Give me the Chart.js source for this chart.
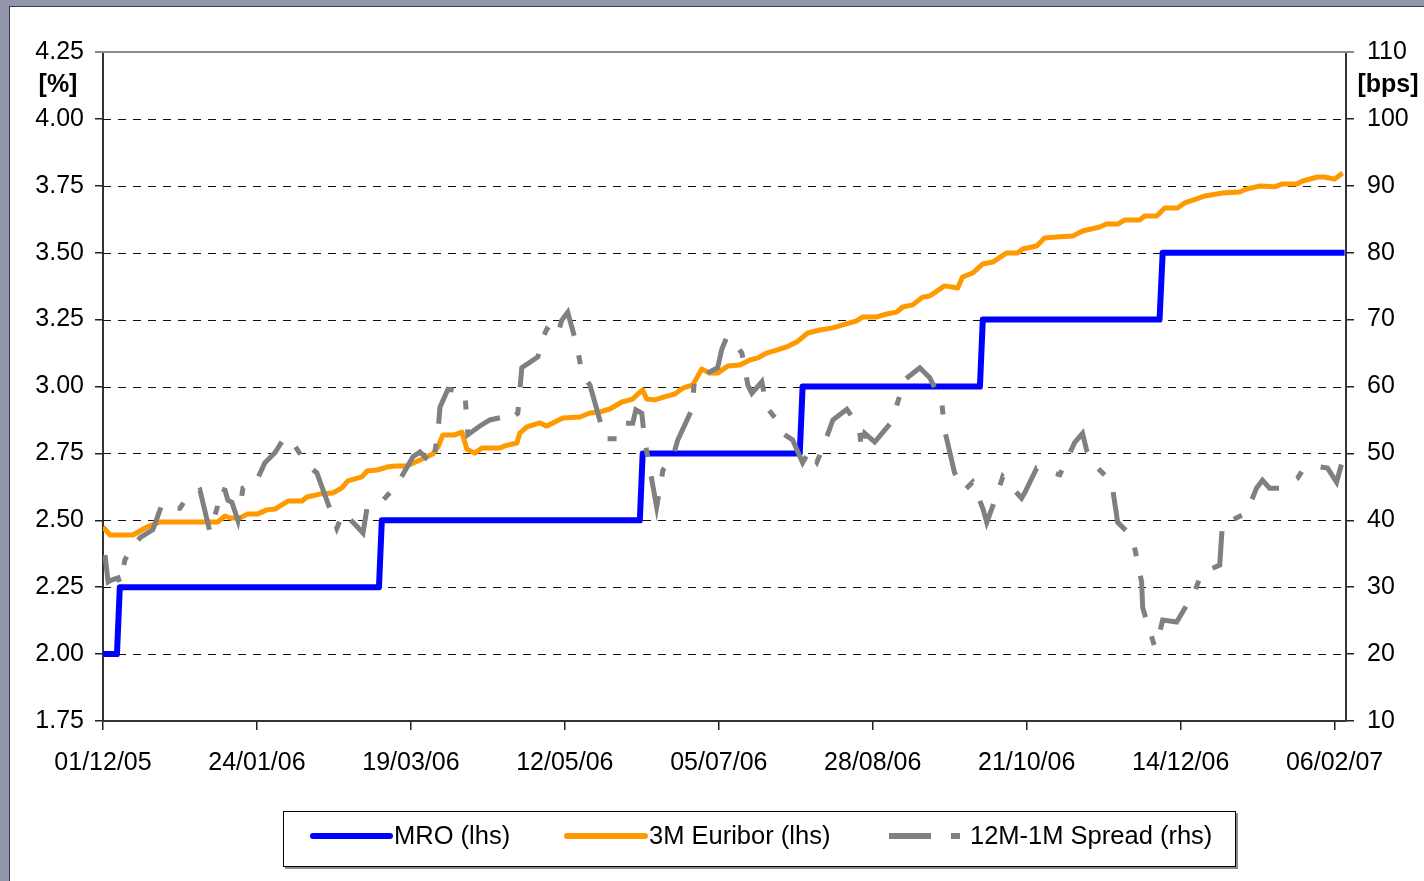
<!DOCTYPE html>
<html><head><meta charset="utf-8">
<script src="https://cdn.jsdelivr.net/npm/chart.js@4.4.0/dist/chart.umd.min.js"></script>
<style>html,body{margin:0;padding:0;background:#9496ae;overflow:hidden}canvas{display:block}</style>
</head><body>
<canvas id="c" width="1424" height="881"></canvas>
<script>
// x values are days since 01/12/2005
const xTickDays = [0, 54, 108, 162, 216, 270, 324, 378, 432];
const xTickLabels = ['01/12/05','24/01/06','19/03/06','12/05/06','05/07/06','28/08/06','21/10/06','14/12/06','06/02/07'];
const seriesNames = ['MRO (lhs)', '3M Euribor (lhs)', '12M-1M Spread (rhs)'];
const leftUnit = '[%]';
const rightUnit = '[bps]';

const mroDays = [0, 4.9, 5.9, 96.8, 97.8, 188.3, 189.3, 244.4, 245.4, 307.6, 308.6, 370.6, 371.7, 435.5];
const mroRates = [2.00, 2.00, 2.25, 2.25, 2.50, 2.50, 2.75, 2.75, 3.00, 3.00, 3.25, 3.25, 3.50, 3.50];

const euriborDays = [0, 2.5, 10.5, 15.4, 20, 40.3, 42.8, 44.5, 48, 50.8,
  54.3, 57.5, 60.3, 64.9, 69.8, 71.5, 76.1, 80.6, 83.8, 85.9,
  90.8, 92.6, 96.1, 99.6, 102.4, 106.6, 111.2, 115.7, 117.5, 119.2,
  123.4, 125.9, 127.6, 130.4, 132.9, 139.2, 141, 145.2, 146.2, 148.7,
  153.2, 155.7, 161.3, 167.3, 170.8, 174.3, 177.8, 182, 185.8, 187.6,
  189.3, 190.7, 193.5, 197.8, 200.6, 203.4, 206.9, 210, 212.8, 215.6,
  219.2, 223.4, 226.9, 229.7, 232.8, 236.3, 239.8, 243.3, 247.2, 251.4,
  256, 259.5, 264.4, 266.5, 271.4, 274.9, 278.4, 280.5, 284, 287.5,
  290, 295.2, 299.8, 301.5, 305, 308.6, 312.1, 317, 320.8, 322.6,
  327.5, 330.3, 334.5, 340.1, 343.6, 349.6, 352, 355.9, 358.3, 363.6,
  365.4, 369.6, 372.4, 376.9, 379.4, 383.6, 386.5, 392.7, 398.7, 401.1,
  405.7, 410.9, 413.7, 418.7, 420.8, 426, 428.5, 432, 434.8];
const euriborRates = [2.475, 2.445, 2.445, 2.475, 2.494, 2.494, 2.516, 2.509, 2.509, 2.524,
  2.524, 2.539, 2.542, 2.572, 2.572, 2.587, 2.598, 2.602, 2.621, 2.647,
  2.662, 2.684, 2.688, 2.699, 2.703, 2.703, 2.725, 2.748, 2.774, 2.819,
  2.819, 2.830, 2.766, 2.751, 2.770, 2.770, 2.778, 2.789, 2.826, 2.849,
  2.864, 2.852, 2.882, 2.886, 2.901, 2.905, 2.916, 2.942, 2.953, 2.972,
  2.987, 2.953, 2.950, 2.964, 2.972, 2.994, 3.006, 3.065, 3.050, 3.050,
  3.077, 3.080, 3.099, 3.107, 3.125, 3.136, 3.148, 3.166, 3.200, 3.211,
  3.219, 3.230, 3.245, 3.260, 3.260, 3.271, 3.278, 3.297, 3.305, 3.334,
  3.338, 3.376, 3.368, 3.409, 3.424, 3.458, 3.465, 3.499, 3.499, 3.514,
  3.525, 3.555, 3.559, 3.562, 3.581, 3.596, 3.607, 3.607, 3.622, 3.622,
  3.637, 3.637, 3.667, 3.667, 3.686, 3.701, 3.712, 3.723, 3.727, 3.738,
  3.749, 3.746, 3.757, 3.757, 3.768, 3.783, 3.783, 3.775, 3.798];

const spreadDays = [0.7, 1.8, 3.2, 5.3, 6.0, 7.7, 10.5, 13.0, 17.5, 20.7,
  22.8, 27.0, 29.5, 34.0, 37.5, 40.0, 41.0, 42.8, 43.8, 45.2,
  47.3, 49.1, 53.3, 56.8, 60.3, 63.1, 65.6, 71.5, 75.0, 78.5,
  82.0, 84.2, 87.7, 91.2, 92.6, 96.1, 98.2, 103.1, 108.7, 111.2,
  115.7, 117.5, 118.2, 121.0, 126.9, 128.0, 132.2, 135.7, 139.9, 141.7,
  145.5, 146.9, 152.5, 154.3, 155.7, 157.4, 159.2, 160.9, 163.0, 166.2,
  168.0, 170.8, 173.6, 176.0, 180.2, 182.3, 185.8, 186.9, 189.0, 190.0,
  194.2, 196.4, 199.9, 201.6, 206.5, 207.6, 209.3, 215.6, 217.0, 218.8,
  220.9, 224.1, 226.2, 227.6, 231.1, 232.8, 236.3, 238.4, 241.9, 245.4,
  247.9, 250.4, 252.5, 256.0, 260.9, 264.4, 265.4, 266.1, 267.2, 270.7,
  276.6, 281.2, 286.5, 290.0, 294.2, 295.2, 298.7, 302.2, 305.0, 308.6,
  310.0, 313.8, 315.6, 322.2, 323.3, 327.5, 335.6, 338.0, 340.8, 343.6,
  345.0, 348.5, 353.8, 355.9, 361.1, 364.3, 364.7, 368.9, 370.6, 371.7,
  376.6, 378.7, 382.9, 385.3, 391.7, 392.4, 392.7, 395.9, 401.1, 404.6,
  406.7, 409.2, 412.7, 419.0, 420.8, 426.7, 429.5, 432.7, 434.8];
const spreadBps = [34.8, 30.8, 31.1, 31.4, 30.6, 34.1, 36.0, 37.4, 38.6, 42.4,
  41.8, 41.8, 43.5, 44.5, 38.3, 41.8, 44.8, 44.5, 43.0, 42.7,
  40.0, 44.8, 45.4, 48.6, 50.1, 52.0, 52.3, 48.3, 47.1, 43.0,
  38.8, 41.1, 39.7, 38.1, 41.8, 42.6, 43.0, 45.3, 49.5, 50.2,
  48.3, 53.2, 56.9, 59.6, 59.2, 52.8, 54.1, 55.0, 55.4, 54.7,
  56.0, 62.8, 64.4, 67.3, 68.6, 68.1, 67.4, 69.9, 71.1, 66.2,
  62.0, 60.2, 56.0, 52.2, 52.2, 54.5, 54.5, 56.5, 56.0, 52.0,
  42.0, 47.5, 49.5, 52.0, 56.5, 61.4, 61.4, 62.8, 65.5, 67.4,
  66.8, 65.0, 60.2, 59.0, 60.7, 56.9, 55.0, 53.0, 52.0, 48.6,
  50.5, 48.7, 50.8, 55.0, 56.6, 54.5, 53.2, 50.5, 53.0, 51.7,
  54.7, 61.0, 62.8, 61.3, 57.7, 53.5, 47.1, 44.5, 45.7, 41.8,
  39.7, 44.1, 46.5, 43.3, 44.1, 47.8, 46.8, 49.0, 51.6, 53.0,
  50.5, 48.0, 45.7, 39.7, 37.5, 30.8, 26.9, 21.1, 23.2, 25.1,
  24.8, 26.3, 29.3, 32.1, 33.3, 37.8, 39.6, 40.0, 41.1, 44.8,
  46.0, 44.8, 44.8, 46.3, 47.5, 48.0, 47.8, 45.7, 49.0];

const COLORS = { mro: '#0000ff', eur: '#ff9900', spread: '#808080' };
const SPREAD_DASH = [42, 20, 9, 20];
const FONT = '"Liberation Sans", Arial, Helvetica, sans-serif';

const zip = (xs, ys) => xs.map((x, i) => ({ x: x, y: ys[i] }));

const framePlugin = {
  id: 'frame',
  beforeDraw(chart) {
    const ctx = chart.ctx;
    ctx.save();
    ctx.fillStyle = '#9496ae';
    ctx.fillRect(0, 0, chart.width, chart.height);
    ctx.fillStyle = '#ffffff';
    ctx.fillRect(10, 7, chart.width - 10, chart.height - 7);
    ctx.fillStyle = '#3a3a4a';
    ctx.fillRect(9, 6, 1, chart.height - 6);
    ctx.fillRect(9, 6, chart.width - 9, 1);
    ctx.restore();
  },
  beforeDatasetsDraw(chart) {
    const ctx = chart.ctx, a = chart.chartArea, s = chart.scales.y;
    ctx.save();
    s.ticks.forEach(t => {
      const y = Math.round(s.getPixelForValue(t.value)) + 0.5;
      if (Math.abs(t.value - 4.25) < 1e-6) {
        ctx.setLineDash([]);
        ctx.strokeStyle = '#8a8a8a';
        ctx.lineWidth = 2;
        ctx.beginPath(); ctx.moveTo(a.left - 8, y - 0.5); ctx.lineTo(a.right + 8, y - 0.5); ctx.stroke();
      } else if (t.value > 1.76) {
        ctx.setLineDash([8, 7]);
        ctx.strokeStyle = '#111';
        ctx.lineWidth = 1;
        ctx.beginPath(); ctx.moveTo(a.left, y); ctx.lineTo(a.right, y); ctx.stroke();
      }
    });
    ctx.restore();
  },
  afterDraw(chart) {
    const ctx = chart.ctx;
    ctx.save();
    ctx.fillStyle = '#000';
    ctx.font = 'bold 25px ' + FONT;
    ctx.textAlign = 'center';
    ctx.textBaseline = 'middle';
    ctx.fillText(leftUnit, 58, 85);
    ctx.fillText(rightUnit, 1388, 85);

    // legend box
    ctx.fillStyle = '#8c8c8c';
    ctx.fillRect(285, 867, 953, 2);
    ctx.fillRect(1236, 813, 2, 56);
    ctx.fillStyle = '#fff';
    ctx.fillRect(283, 811, 953, 56);
    ctx.strokeStyle = '#000';
    ctx.lineWidth = 1;
    ctx.strokeRect(283.5, 811.5, 952, 55);

    const yc = 836;
    const items = [
      { x0: 313, x1: 390, tx: 394, color: COLORS.mro, w: 6, dash: [] , label: seriesNames[0]},
      { x0: 567, x1: 645, tx: 649, color: COLORS.eur, w: 6, dash: [] , label: seriesNames[1]},
      { x0: 889, x1: 962, tx: 970, color: COLORS.spread, w: 6, dash: SPREAD_DASH, label: seriesNames[2]}
    ];
    ctx.font = '25.5px ' + FONT;
    ctx.textAlign = 'left';
    items.forEach(it => {
      ctx.save();
      ctx.strokeStyle = it.color;
      ctx.lineWidth = it.w;
      ctx.lineCap = it.dash.length ? 'butt' : 'round';
      ctx.setLineDash(it.dash);
      ctx.beginPath(); ctx.moveTo(it.x0, yc); ctx.lineTo(it.x1, yc); ctx.stroke();
      ctx.restore();
      ctx.fillStyle = '#000';
      ctx.fillText(it.label, it.tx, yc + 1);
    });
    ctx.restore();
  }
};

Chart.defaults.font.family = FONT;
Chart.defaults.font.size = 25;
Chart.defaults.color = '#000';

new Chart(document.getElementById('c'), {
  type: 'line',
  data: {
    datasets: [
      { label: seriesNames[2], data: zip(spreadDays, spreadBps), yAxisID: 'y1',
        borderColor: COLORS.spread, borderWidth: 5, borderDash: SPREAD_DASH, borderCapStyle: 'butt',
        pointRadius: 0, tension: 0, fill: false },
      { label: seriesNames[0], data: zip(mroDays, mroRates), yAxisID: 'y',
        borderColor: COLORS.mro, borderWidth: 6, pointRadius: 0, tension: 0, fill: false,
        borderJoinStyle: 'round' },
      { label: seriesNames[1], data: zip(euriborDays, euriborRates), yAxisID: 'y',
        borderColor: COLORS.eur, borderWidth: 5, pointRadius: 0, tension: 0, fill: false,
        borderJoinStyle: 'round' }
    ]
  },
  options: {
    responsive: false,
    animation: false,
    devicePixelRatio: 1,
    layout: { padding: { top: 52, left: 0, right: 0, bottom: 0 } },
    plugins: { legend: { display: false }, tooltip: { enabled: false } },
    scales: {
      x: {
        type: 'linear', min: 0, max: 436,
        afterBuildTicks: s => { s.ticks = xTickDays.map(v => ({ value: v })); },
        afterFit: s => { s.height = 160; },
        ticks: { padding: 18, maxRotation: 0, autoSkip: false,
          callback: (v) => { const i = xTickDays.indexOf(v); return i >= 0 ? xTickLabels[i] : ''; } },
        grid: { drawOnChartArea: false, drawTicks: true, tickLength: 9, color: '#222', lineWidth: 1.5 },
        border: { display: true, color: '#333', width: 2 }
      },
      y: {
        position: 'left', min: 1.75, max: 4.25,
        afterFit: s => { s.width = 103; },
        ticks: { stepSize: 0.25, padding: 11, callback: v => Number(v).toFixed(2) },
        grid: { drawOnChartArea: false, tickLength: 8, color: '#222', lineWidth: 1.5 },
        border: { display: true, color: '#333', width: 2 }
      },
      y1: {
        position: 'right', min: 10, max: 110,
        afterFit: s => { s.width = 78; },
        ticks: { stepSize: 10, padding: 13, callback: v => String(Math.round(v)) },
        grid: { drawOnChartArea: false, tickLength: 8, color: '#222', lineWidth: 1.5 },
        border: { display: true, color: '#333', width: 2 }
      }
    }
  },
  plugins: [framePlugin]
});
</script>
</body></html>
